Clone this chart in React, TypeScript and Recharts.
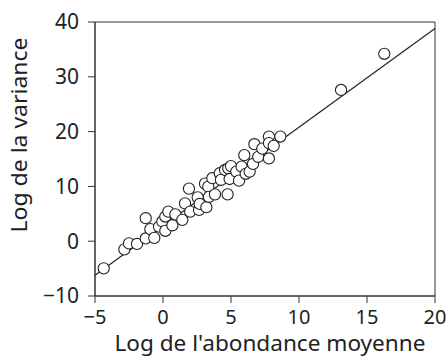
import {
  ScatterChart, Scatter, XAxis, YAxis, ReferenceLine, ReferenceArea, Label
} from 'recharts';

const xValues = [
  -4.36, -2.84, -2.5, -1.91, -1.27, -1.27, -0.93, -0.64, -0.29, -0.05,
  0.17, 0.17, 0.39, 0.69, 0.91, 1.42, 1.62, 1.91, 2.0, 2.55,
  2.65, 2.7, 3.09, 3.19, 3.33, 3.38, 3.63, 3.82, 4.17, 4.26,
  4.56, 4.75, 4.8, 4.9, 5.0, 5.39, 5.59, 5.78, 5.98, 6.08,
  6.37, 6.62, 6.72, 7.0, 7.3, 7.79, 7.79, 7.79, 8.14, 8.63,
  13.09, 16.27
];
const yValues = [
  -4.95, -1.5, -0.4, -0.5, 0.5, 4.2, 2.2, 0.6, 2.65, 3.6,
  1.9, 4.5, 5.4, 2.9, 4.9, 3.9, 6.9, 9.6, 5.4, 8.0,
  5.7, 6.8, 10.5, 6.2, 9.95, 8.1, 11.5, 8.55, 12.4, 11.2,
  13.0, 8.55, 13.3, 11.35, 13.7, 12.7, 11.05, 13.6, 15.7, 12.3,
  12.7, 14.1, 17.7, 15.4, 16.9, 15.1, 19.1, 17.9, 17.4, 19.1,
  27.6, 34.2
];
const xTicks = [-5, 0, 5, 10, 15, 20];
const yTicks = [-10, 0, 10, 20, 30, 40];
const fitLine = [
  { x: -5, y: -6.2 },
  { x: 20, y: 38.8 }
];

const points = xValues.map((x, i) => ({ x, y: yValues[i] }));
const fmt = (v: number) => (v < 0 ? '\u2212' + Math.abs(v) : String(v));
const font = '"Noto Sans", sans-serif';

const Circle = (props: any) => {
  const { cx, cy } = props;
  return <circle cx={cx} cy={cy} r={5.6} fill="#fff" stroke="#222" strokeWidth={1.1} />;
};

const XTitle = ({ viewBox }: any) => (
  <text
    x={viewBox.x + viewBox.width / 2 + 5}
    y={viewBox.y + 55}
    textAnchor="middle"
    fill="#222"
    fontSize={22}
    fontFamily={font}
    textLength={311}
    lengthAdjust="spacingAndGlyphs"
  >
    Log de l'abondance moyenne
  </text>
);

const YTitle = ({ viewBox }: any) => {
  const x = viewBox.x + 27;
  const y = viewBox.y + viewBox.height / 2 - 24;
  return (
    <text
      x={0}
      y={0}
      transform={`translate(${x},${y}) rotate(-90)`}
      textAnchor="middle"
      fill="#222"
      fontSize={22}
      fontFamily={font}
      textLength={195}
      lengthAdjust="spacingAndGlyphs"
    >
      Log de la variance
    </text>
  );
};

export default function App() {
  return (
    <div style={{ position: 'absolute', left: 0, top: 0, width: 448, height: 357, background: '#fff' }}>
      <ScatterChart
        width={448}
        height={357}
        margin={{ top: 22, right: 13, bottom: 0, left: 0 }}
        style={{ fontFamily: font }}
      >
        <XAxis
          type="number"
          dataKey="x"
          domain={[-5, 20]}
          ticks={xTicks}
          tickFormatter={fmt}
          allowDataOverflow
          stroke="#333"
          tickSize={7}
          tickMargin={7}
          tick={{ fill: '#222', fontSize: 20, fontFamily: font }}
          height={61}
        >
          <Label content={<XTitle />} />
        </XAxis>
        <YAxis
          type="number"
          dataKey="y"
          domain={[-10, 40]}
          ticks={yTicks}
          tickFormatter={fmt}
          allowDataOverflow
          stroke="#333"
          tickSize={7}
          tickMargin={9}
          tick={{ fill: '#222', fontSize: 21, fontFamily: font }}
          width={95}
        >
          <Label content={<YTitle />} />
        </YAxis>
        <ReferenceArea x1={-5} x2={20} y1={-10} y2={40} fill="none" stroke="#333" strokeWidth={1} />
        <ReferenceLine segment={fitLine} stroke="#222" strokeWidth={1.2} />
        <Scatter data={points} shape={<Circle />} isAnimationActive={false} />
      </ScatterChart>
    </div>
  );
}
